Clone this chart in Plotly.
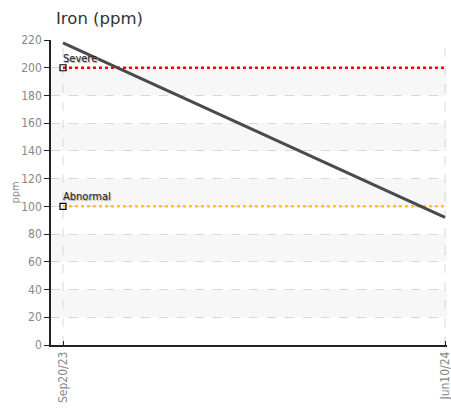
import plotly.graph_objects as go
from datetime import datetime, timedelta

dates = ["2023-09-20", "2024-06-10"]
tick_labels = ["Sep20/23", "Jun10/24"]
iron = [218, 92]
limit_names = ["Severe", "Abnormal"]
limit_values = [200, 100]
limit_colors = ["#ff0000", "#ffcc00"]
y_ticks = list(range(0, 221, 20))

d0 = datetime.fromisoformat(dates[0])
d1 = datetime.fromisoformat(dates[-1])
span = (d1 - d0).days
fmt = "%Y-%m-%d %H:%M"
x_range = [(d0 - timedelta(days=span * 12 / 382)).strftime(fmt),
           (d1 + timedelta(days=span * 2 / 382)).strftime(fmt)]

font_narrow = "DejaVu Sans Condensed, Liberation Sans Narrow, Roboto, sans-serif"

fig = go.Figure()

# alternating bands
for i in range(len(y_ticks) - 1):
    if i % 2 == 1:
        fig.add_shape(type="rect", xref="paper", yref="y", x0=0, x1=1,
                      y0=y_ticks[i], y1=y_ticks[i + 1],
                      fillcolor="#f7f7f7", line_width=0, layer="below")

# vertical dashed grid lines at each sample date
for d in dates:
    fig.add_shape(type="line", xref="x", yref="paper", x0=d, x1=d, y0=0, y1=1,
                  line=dict(color="#d8d8d8", width=1, dash="dash"), layer="below")

for name, val, col in zip(limit_names, limit_values, limit_colors):
    fig.add_trace(go.Scatter(x=[dates[0], x_range[1]], y=[val, val], mode="lines",
                             line=dict(color=col, width=2.5, dash="dot"),
                             hoverinfo="skip", showlegend=False))
    fig.add_trace(go.Scatter(x=[dates[0]], y=[val], mode="markers",
                             marker=dict(symbol="square-open", size=6, color="#000",
                                         line=dict(width=1.2)),
                             showlegend=False, hoverinfo="skip"))
    fig.add_annotation(x=dates[0], y=val, text=name, showarrow=False,
                       xanchor="left", yanchor="bottom", xshift=-2, yshift=1,
                       font=dict(family=font_narrow, size=11, color="#222",
                                 shadow="1px 1px 1px #999"))

fig.add_trace(go.Scatter(x=dates, y=iron, mode="lines",
                         line=dict(color="#4a4a4a", width=3), showlegend=False))

# y-axis title
fig.add_annotation(xref="paper", yref="paper", x=0, y=0.5, xshift=-36,
                   text="ppm", textangle=-90, showarrow=False,
                   xanchor="center", yanchor="middle",
                   font=dict(family=font_narrow, size=11, color="#888"))

fig.update_layout(
    width=451, height=413,
    margin=dict(l=51, r=4, t=40, b=68, autoexpand=False),
    paper_bgcolor="white", plot_bgcolor="white",
    title=dict(text="Iron (ppm)", x=56 / 451, xref="container", xanchor="left",
               y=1 - 18 / 413, yref="container", yanchor="middle",
               font=dict(family="DejaVu Sans", size=16.5, color="#333")),
    xaxis=dict(type="date", range=x_range, tickvals=dates, ticktext=tick_labels,
               tickangle=-90, showgrid=False, showline=True, linecolor="#222",
               linewidth=1.5, ticks="inside", ticklen=4, tickcolor="#222",
               zeroline=False, automargin=False, ticklabeloverflow="allow",
               tickfont=dict(family=font_narrow, size=12, color="#888")),
    yaxis=dict(range=[0, 220], tickvals=y_ticks, showgrid=True, gridcolor="#d8d8d8",
               griddash="dash", gridwidth=1, showline=True, linecolor="#222",
               linewidth=1.5, ticks="outside", ticklen=5, tickcolor="#222",
               zeroline=False, automargin=False,
               tickfont=dict(family=font_narrow, size=12, color="#888")),
)

fig.write_html("out.html", config={"displayModeBar": False},
               post_script="document.body.style.margin='0';")
